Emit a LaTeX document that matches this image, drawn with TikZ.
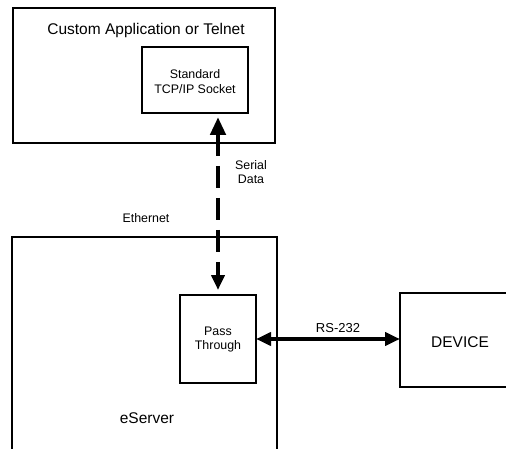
\documentclass[tikz,border=0pt]{standalone}
\usepackage{fontspec}
\setmainfont{Liberation Sans}
\usetikzlibrary{arrows.meta}
\begin{document}
\begin{tikzpicture}[x=1pt,y=-1pt,
  box/.style={draw, line width=2.8pt, inner sep=0pt, outer sep=0pt},
  frame/.style={inner sep=0pt, outer sep=0pt},
  edge/.style={draw, line width=2.8pt},
  big/.style={font=\fontsize{15.5}{18}\selectfont, inner sep=0pt},
  small/.style={font=\fontsize{12.4}{14.8}\selectfont, align=center, inner sep=0pt},
  link/.style={line width=4.5pt}]
\useasboundingbox (0,0) rectangle (506,449);
% boxes
\node[box, minimum width=262pt, minimum height=135pt] (app) at (144,75.5) {};
\node[box, minimum width=106pt, minimum height=66pt] (socket) at (195,80) {};
\node[frame, minimum width=265pt, minimum height=240pt] (eserver) at (144.5,357) {};
\draw[edge] (eserver.south west) -- (eserver.north west) -- (eserver.north east) -- (eserver.south east);
\node[box, minimum width=76pt, minimum height=88pt] (pass) at (218,339) {};
\node[frame, minimum width=106pt, minimum height=94pt] (device) at (453,340) {};
\draw[edge] (device.north east) -- (device.north west) -- (device.south west) -- (device.south east);
% texts
\node[big] (apptext) at (146,30) {Custom Application or Telnet};
\node[small] (sockettext) at (195,81.5) {Standard\\TCP/IP Socket};
\node[small] (serial) at (251,172) {Serial\\Data};
\node[small] (ethernet) at (146,218) {Ethernet};
\node[small] (passtext) at (218,339.5) {Pass\\Through};
\node[small, font=\fontsize{13}{15}\selectfont] (rs) at (338,328) {RS-232};
\node[big] (devtext) at (460,342) {DEVICE};
\node[big] (estext) at (147,418) {eServer};
% connectors
\draw[link, dash pattern=on 22pt off 10pt, {Triangle[length=18pt,width=15pt]}-{Triangle[length=15pt,width=13pt]}, shorten <=4pt, shorten >=5pt]
  (socket.south -| pass.north) -- (pass.north);
\draw[line width=4pt, {Triangle[length=15pt,width=13pt]}-{Triangle[length=15pt,width=13pt]}]
  (pass.east) -- (pass.east -| device.west);
\end{tikzpicture}
\end{document}
